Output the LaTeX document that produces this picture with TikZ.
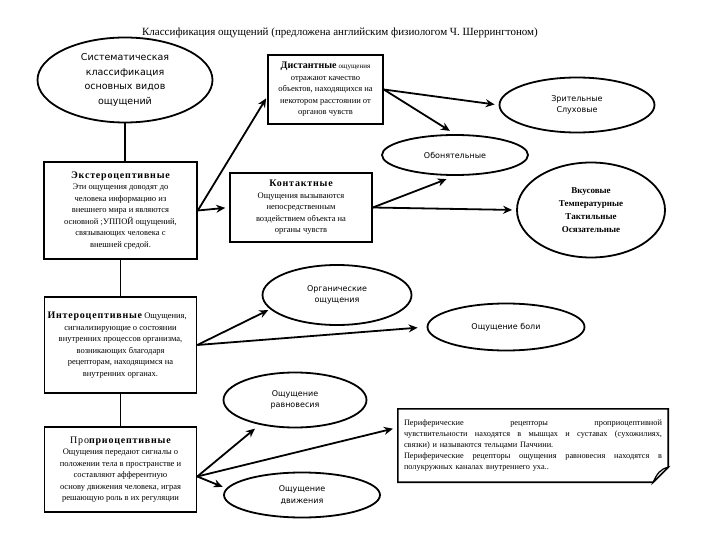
\documentclass[tikz,border=0pt]{standalone}
\usepackage{fontspec}
\setmainfont{Liberation Serif}
\setsansfont{DejaVu Sans}
\usetikzlibrary{shapes.geometric,arrows.meta,calc}
\newcommand\hdtxt[1]{{\fontsize{10}{11.5}\selectfont\bfseries\addfontfeature{LetterSpace=8}#1}}
\begin{document}
\begin{tikzpicture}[x=1pt,y=-1pt,
  ell/.style={draw, ellipse, line width=1.8pt, inner sep=0pt, align=center, font=\sffamily\fontsize{8}{11.5}\selectfont},
  bellip/.style={draw, ellipse, line width=1.8pt, inner sep=0pt, align=center, font=\bfseries\fontsize{9}{13}\selectfont},
  bx/.style={draw, rectangle, line width=1.6pt, inner sep=2pt, align=center, font=\fontsize{8.5}{11.5}\selectfont},
  arr/.style={line width=1.8pt, -{Stealth[length=9pt,width=8pt]}, shorten >=2pt},
  ln/.style={line width=1.8pt}]
\useasboundingbox (0,0) rectangle (720,540);
\fill[white] (0,0) rectangle (720,540);

\node[font=\fontsize{11}{13}\selectfont] (title) at (340,33) {Классификация ощущений (предложена английским физиологом Ч. Шеррингтоном)};

\node[ell, minimum width=175pt, minimum height=85pt, font=\sffamily\fontsize{9.5}{14.7}\selectfont] (sys) at (125,80) {Систематическая\\классификация\\основных видов\\ощущений};

\node[bx, minimum width=115pt, minimum height=69pt] (dist) at (325.5,89.5) {{\fontsize{10}{11.5}\selectfont\bfseries Дистантные} {\fontsize{7}{11.5}\selectfont ощущения}\\отражают качество\\объектов, находящихся на\\некотором расстоянии от\\органов чувств};

\node[ell, minimum width=155pt, minimum height=55pt] (zrit) at (577,105) {Зрительные\\Слуховые};
\node[ell, minimum width=146pt, minimum height=40pt] (obon) at (455,155) {Обонятельные};

\node[bx, minimum width=153pt, minimum height=97pt] (ext) at (120.5,210.5) {\hdtxt{Экстероцептивные}\\Эти ощущения доводят до\\человека информацию из\\внешнего мира и являются\\основной ;УППОЙ ощущений,\\связывающих человека с\\внешней средой.};

\node[bx, minimum width=142pt, minimum height=69pt] (kont) at (301,207.5) {\hdtxt{Контактные}\\Ощущения вызываются\\непосредственным\\воздействием объекта на\\органы чувств};

\node[bellip, minimum width=148pt, minimum height=95pt] (vkus) at (591,210) {Вкусовые\\Температурные\\Тактильные\\Осязательные};

\node[ell, minimum width=149pt, minimum height=60pt] (org) at (337,295) {Органические\\ощущения};
\node[ell, minimum width=157pt, minimum height=47pt] (boli) at (506,327) {Ощущение боли};

\node[bx, minimum width=152pt, minimum height=96pt] (intero) at (120.5,345) {\makebox[146pt][l]{\hdtxt{Интероцептивные} Ощущения,}\\сигнализирующие о состоянии\\внутренних процессов организма,\\возникающих благодаря\\рецепторам, находящимся на\\внутренних органах.};

\node[ell, minimum width=143pt, minimum height=55pt] (ravn) at (295,400) {Ощущение\\равновесия};
\node[ell, minimum width=156pt, minimum height=45pt] (dvizh) at (302,495) {Ощущение\\движения};

\node[bx, minimum width=152pt, minimum height=85pt] (proprio) at (120.5,469.5) {{\fontsize{10}{11.5}\selectfont\addfontfeature{LetterSpace=8}Про}\hdtxt{приоцептивные}\\Ощущения передают сигналы о\\положении тела в пространстве и\\составляют афферентную\\основу движения человека, играя\\решающую роль в их регуляции};

\node[text width=258pt, inner xsep=6pt, inner ysep=0pt, minimum height=73pt, align=left, font=\fontsize{8.3}{11}\selectfont] (note) at (533,445.5) {\makebox[258pt][s]{Периферические\hfill рецепторы\hfill проприоцептивной}\\
\makebox[258pt][s]{чувствительности\hfill находятся\hfill в\hfill мышцах\hfill и\hfill суставах\hfill (сухожилиях,}\\
связки) и называются тельцами Паччини.\\
\makebox[258pt][s]{Периферические\hfill рецепторы\hfill ощущения\hfill равновесия\hfill находятся\hfill в}\\
полукружных каналах внутреннего уха..};
\draw[line width=1.6pt] (note.north west) -- (note.north east) -- ([yshift=15pt]note.south east) -- ([xshift=-15pt]note.south east) -- (note.south west) -- cycle;
\draw[line width=1.2pt, fill=black!15] ([yshift=15pt]note.south east) .. controls ([xshift=-8pt,yshift=13pt]note.south east) and ([xshift=-11pt,yshift=9pt]note.south east) .. ([xshift=-15pt]note.south east) -- cycle;

% connectors
\draw[ln] (sys.south) -- (sys.south |- ext.north);
\draw[ln] (ext.south) -- (intero.north);
\draw[ln] (intero.south) -- (proprio.north);

\draw[arr] (ext.east) -- (dist.187);
\draw[arr, shorten >=4pt] (ext.east) -- (kont.west);
\draw[arr, shorten >=4pt] (dist.east) -- (zrit.west);
\draw[arr, shorten >=6pt] (dist.east) -- (obon.north);
\draw[arr, shorten >=9pt] (kont.east) -- (obon.south);
\draw[arr, shorten >=4pt] (kont.east) -- (vkus.west);
\draw[arr] (intero.east) -- (org.192);
\draw[arr, shorten >=9pt] (intero.east) -- (boli.west);
\coordinate (pp) at ([yshift=-7pt]proprio.east);
\draw[arr, shorten >=6pt] (pp) -- (ravn.215);
\draw[arr, shorten >=5pt] (pp) -- ([yshift=18pt]note.west);
\draw[arr, shorten >=4pt] (pp) -- (dvizh.175);
\end{tikzpicture}
\end{document}
